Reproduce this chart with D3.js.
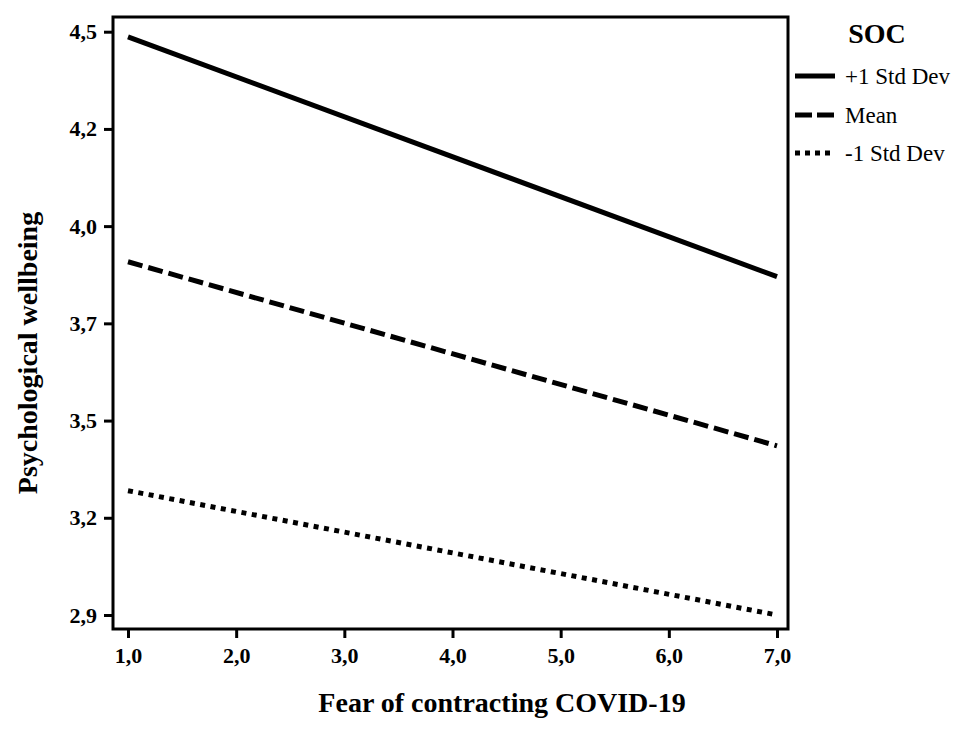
<!DOCTYPE html>
<html>
<head>
<meta charset="utf-8">
<script src="https://cdn.jsdelivr.net/npm/d3@7"></script>
<style>
  html, body { margin: 0; padding: 0; background: #fff; }
  svg { display: block; }
  text { font-family: "Liberation Serif", "Times New Roman", serif; fill: #000; }
</style>
</head>
<body>
<svg id="chart" width="972" height="734"></svg>
<script>
// ---- data ----
const xValues = [1, 7];
const seriesNames = ["+1 Std Dev", "Mean", "-1 Std Dev"];
const plus1SD = [4.486, 3.828];
const meanSOC = [3.869, 3.364];
const minus1SD = [3.241, 2.900];
const xTickValues = [1, 2, 3, 4, 5, 6, 7];
const xTickLabels = ["1,0", "2,0", "3,0", "4,0", "5,0", "6,0", "7,0"];
const yTickValues = [2.9, 3.1667, 3.4333, 3.7, 3.9667, 4.2333, 4.5];
const yTickLabels = ["2,9", "3,2", "3,5", "3,7", "4,0", "4,2", "4,5"];
const xTitle = "Fear of contracting COVID-19";
const yTitle = "Psychological wellbeing";
const legendTitle = "SOC";

// ---- layout ----
const frame = { left: 113, top: 17, right: 788, bottom: 629 };
const svg = d3.select("#chart");
const FONT = '"Liberation Serif", "Times New Roman", serif';

const x = d3.scaleLinear().domain([1, 7]).range([128, 777]);
const y = d3.scaleLinear().domain([2.9, 4.5]).range([615, 31.7]);

const series = [
  { name: seriesNames[0], values: plus1SD, dash: null },
  { name: seriesNames[1], values: meanSOC, dash: "15,6" },
  { name: seriesNames[2], values: minus1SD, dash: "5,5.5" }
];

// axes
const xAxis = d3.axisBottom(x).tickValues(xTickValues)
  .tickFormat((d, i) => xTickLabels[i]).tickSize(9).tickSizeOuter(0).tickPadding(9);
const gx = svg.append("g").attr("transform", `translate(0,${frame.bottom})`)
  .call(xAxis).attr("font-family", FONT);
gx.select(".domain").remove();
gx.selectAll(".tick line").attr("stroke", "#000").attr("stroke-width", 3);
gx.selectAll(".tick text").style("font-size", "22px").style("font-weight", "bold")
  .style("font-family", FONT).attr("fill", "#000");

const yAxis = d3.axisLeft(y).tickValues(yTickValues)
  .tickFormat((d, i) => yTickLabels[i]).tickSize(9).tickSizeOuter(0).tickPadding(7);
const gy = svg.append("g").attr("transform", `translate(${frame.left},0)`)
  .call(yAxis).attr("font-family", FONT);
gy.select(".domain").remove();
gy.selectAll(".tick line").attr("stroke", "#000").attr("stroke-width", 3);
gy.selectAll(".tick text").style("font-size", "22px").style("font-weight", "bold")
  .style("font-family", FONT).attr("fill", "#000");

// frame
svg.append("rect")
  .attr("x", frame.left).attr("y", frame.top)
  .attr("width", frame.right - frame.left).attr("height", frame.bottom - frame.top)
  .attr("fill", "none").attr("stroke", "#000").attr("stroke-width", 3);

// lines
const line = d3.line().x((d, i) => x(xValues[i])).y(d => y(d));
svg.selectAll("path.series").data(series).enter().append("path")
  .attr("class", "series")
  .attr("d", d => line(d.values))
  .attr("fill", "none").attr("stroke", "#000").attr("stroke-width", 5)
  .attr("stroke-dasharray", d => d.dash);

// axis titles
svg.append("text").attr("x", 502).attr("y", 712).attr("text-anchor", "middle")
  .style("font-size", "28px").style("font-weight", "bold").text(xTitle);
svg.append("text").attr("transform", "translate(37,353) rotate(-90)")
  .attr("text-anchor", "middle")
  .style("font-size", "28px").style("font-weight", "bold").text(yTitle);

// legend
svg.append("text").attr("x", 877).attr("y", 43).attr("text-anchor", "middle")
  .style("font-size", "28px").style("font-weight", "bold").text(legendTitle);
const legendDash = [null, "17,5", "5,5"];
const legendY = [76, 115, 153];
const lg = svg.selectAll("g.leg").data(series).enter().append("g").attr("class", "leg")
  .attr("transform", (d, i) => `translate(0,${legendY[i]})`);
lg.append("line").attr("x1", 795).attr("x2", 835).attr("y1", 0).attr("y2", 0)
  .attr("stroke", "#000").attr("stroke-width", 5)
  .attr("stroke-dasharray", (d, i) => legendDash[i]);
lg.append("text").attr("x", 845).attr("y", 8)
  .style("font-size", "23px").text(d => d.name);
</script>
</body>
</html>
